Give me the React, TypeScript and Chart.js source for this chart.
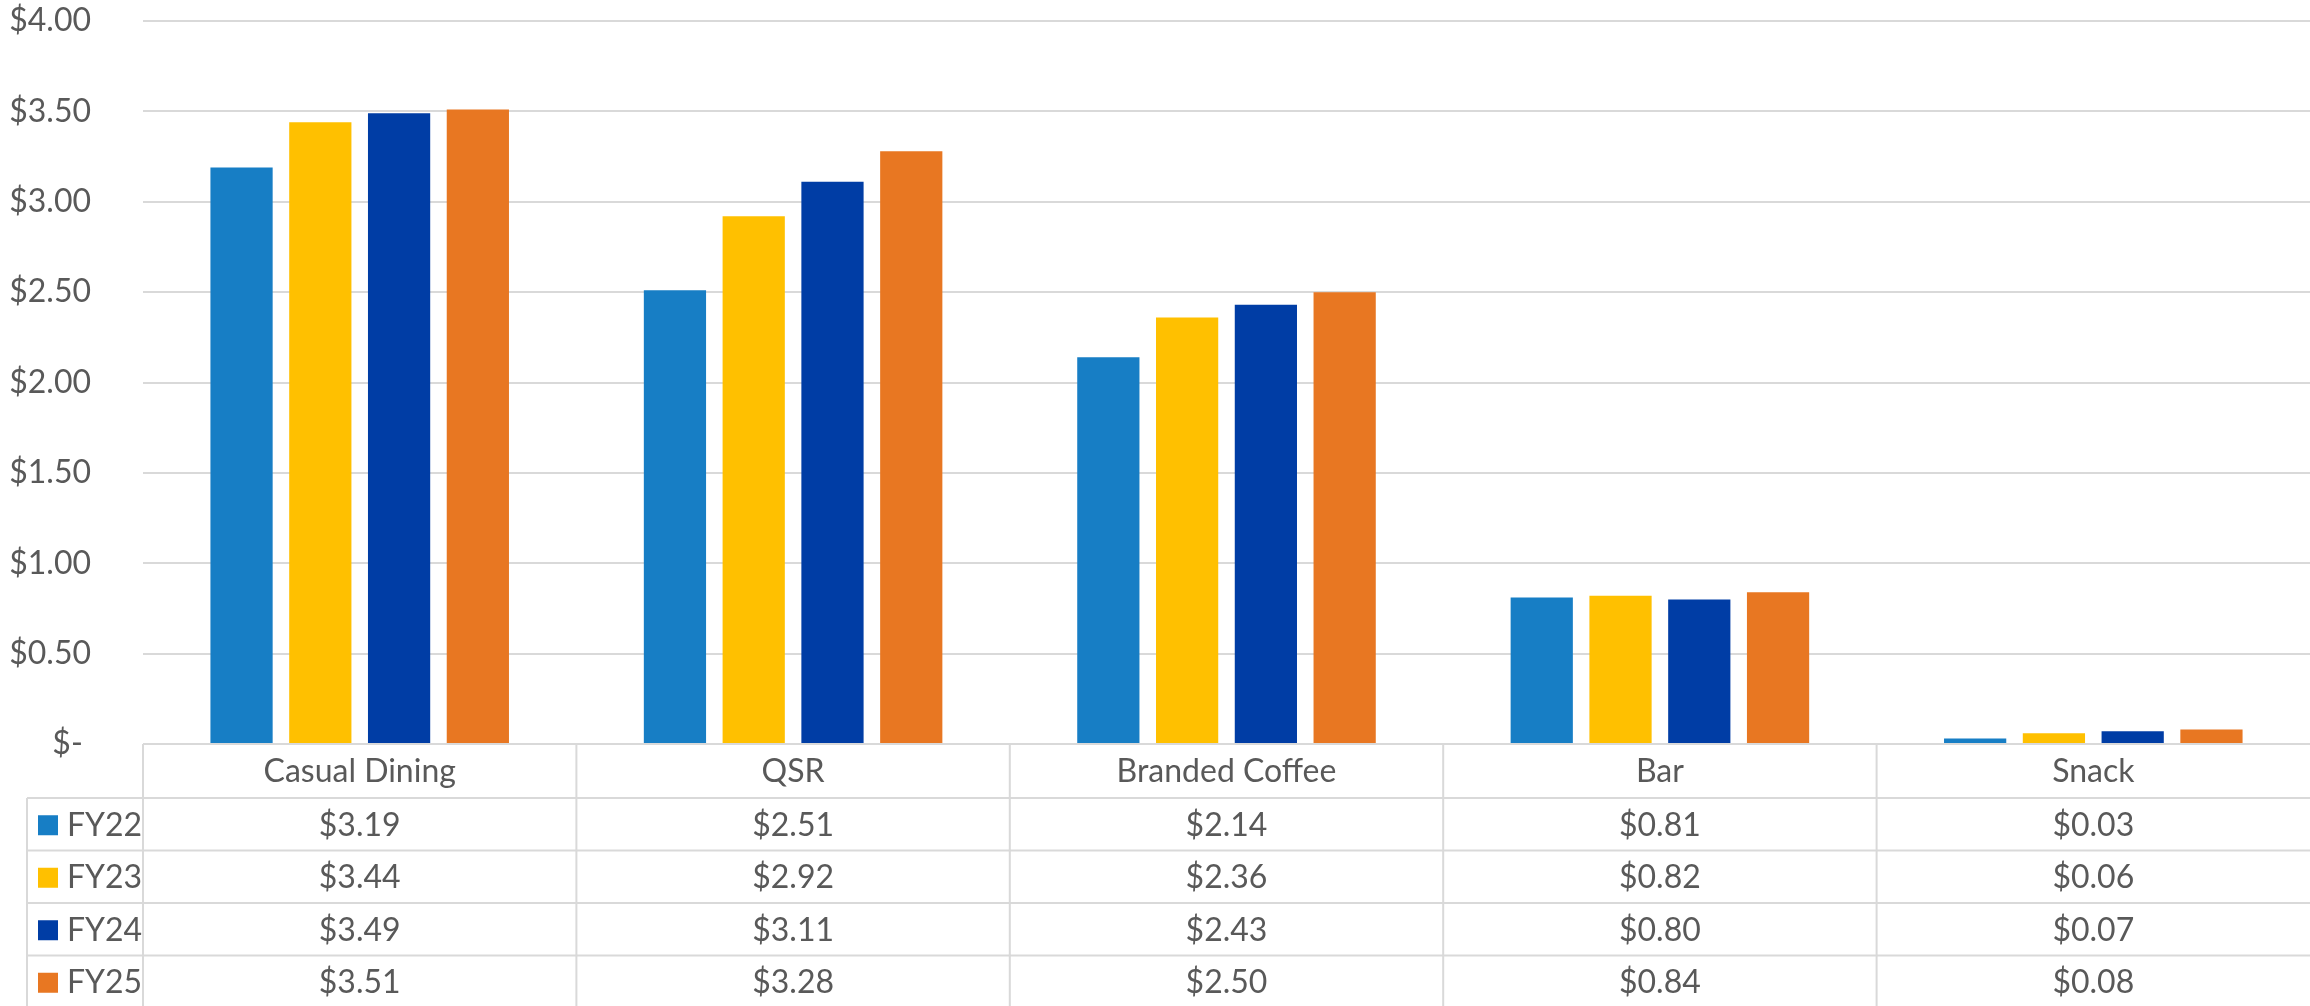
import React, { useEffect, useRef } from "react";
import { Chart, registerables } from "chart.js";

Chart.register(...registerables);

const categories = ["Casual Dining", "QSR", "Branded Coffee", "Bar", "Snack"];
const seriesNames = ["FY22", "FY23", "FY24", "FY25"];
const fy22 = [3.19, 2.51, 2.14, 0.81, 0.03];
const fy23 = [3.44, 2.92, 2.36, 0.82, 0.06];
const fy24 = [3.49, 3.11, 2.43, 0.8, 0.07];
const fy25 = [3.51, 3.28, 2.5, 0.84, 0.08];
const seriesColors = ["#177EC5", "#FFC000", "#003DA5", "#E87722"];
const yMin = 0;
const yMax = 4;
const yStep = 0.5;

const W = 2310;
const H = 1006;
const FONT = "Lato, 'Open Sans', sans-serif";
const FS = 32;
const TEXT = "#595959";
const GRID = "#D9D9D9";

const fmt = (v: number) => "$" + v.toFixed(2);

const tablePlugin = {
  id: "dataTable",
  afterDraw(chart: any) {
    const { ctx, chartArea } = chart;
    const x = chart.scales.x;
    const all = [fy22, fy23, fy24, fy25];
    const top = chartArea.bottom;
    const right = chartArea.right;
    const headerH = 54;
    const rowH = 52.5;
    const legendLeft = 27;
    const bottom = H;
    const colW = (chartArea.right - chartArea.left) / categories.length;
    ctx.save();
    ctx.strokeStyle = GRID;
    ctx.lineWidth = 2;
    const line = (x1: number, y1: number, x2: number, y2: number) => {
      ctx.beginPath();
      ctx.moveTo(x1, y1);
      ctx.lineTo(x2, y2);
      ctx.stroke();
    };
    line(chartArea.left, top, right, top);
    for (let r = 0; r < 4; r++) {
      const y = top + headerH + r * rowH;
      line(legendLeft, y, right, y);
    }
    line(legendLeft, top + headerH, legendLeft, bottom);
    for (let i = 0; i < categories.length; i++) {
      const cx = x.getPixelForValue(i);
      line(cx - colW / 2, top, cx - colW / 2, bottom);
    }

    ctx.fillStyle = TEXT;
    ctx.font = `${FS}px ${FONT}`;
    ctx.textAlign = "center";
    ctx.textBaseline = "middle";
    categories.forEach((c, i) => {
      ctx.fillText(c, x.getPixelForValue(i), top + headerH / 2 + 1);
    });
    for (let r = 0; r < 4; r++) {
      const cy = top + headerH + (r + 0.5) * rowH + 1;
      categories.forEach((_, i) => {
        ctx.fillStyle = TEXT;
        ctx.textAlign = "center";
        ctx.fillText(fmt(all[r][i]), x.getPixelForValue(i), cy);
      });
      ctx.fillStyle = seriesColors[r];
      ctx.fillRect(38, cy - 10, 20, 20);
      ctx.fillStyle = TEXT;
      ctx.textAlign = "left";
      ctx.fillText(seriesNames[r], 67, cy);
    }
    ctx.restore();
  },
};

export default function App() {
  const ref = useRef<HTMLCanvasElement | null>(null);
  useEffect(() => {
    if (!ref.current) return;
    const all = [fy22, fy23, fy24, fy25];
    const chart = new Chart(ref.current, {
      type: "bar",
      data: {
        labels: categories,
        datasets: seriesNames.map((n, i) => ({
          label: n,
          data: all[i],
          backgroundColor: seriesColors[i],
          borderWidth: 0,
          categoryPercentage: 0.727,
          barPercentage: 0.79,
        })),
      },
      options: {
        animation: false,
        responsive: false,
        devicePixelRatio: 1,
        layout: { padding: { top: 21, bottom: H - 744, left: 0, right: 0 } },
        plugins: { legend: { display: false }, tooltip: { enabled: false } },
        scales: {
          x: { display: false },
          y: {
            min: yMin,
            max: yMax,
            afterFit: (s: any) => {
              s.width = 143;
              s.paddingTop = 0;
              s.paddingBottom = 0;
            },
            border: { display: false },
            grid: { color: GRID, lineWidth: 2, drawTicks: false },
            ticks: {
              stepSize: yStep,
              padding: 52,
              color: TEXT,
              font: { family: FONT, size: FS },
              callback: (v: any) => (Number(v) === 0 ? "$- " : fmt(Number(v))),
            },
          },
        },
      },
      plugins: [tablePlugin],
    });
    return () => chart.destroy();
  }, []);
  return (
    <div style={{ position: "fixed", left: 0, top: 0, width: W, height: H, background: "#fff" }}>
      <canvas ref={ref} width={W} height={H} style={{ width: W, height: H }} />
    </div>
  );
}
